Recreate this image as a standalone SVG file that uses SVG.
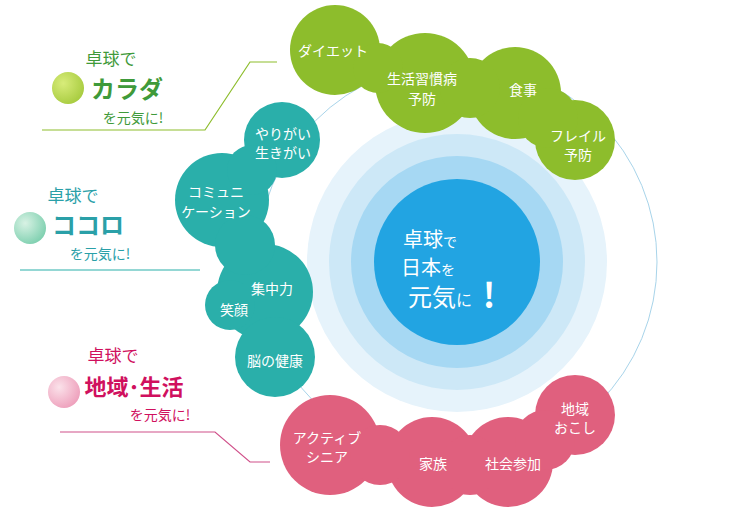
<svg xmlns="http://www.w3.org/2000/svg" width="734" height="516" viewBox="0 0 734 516">
<defs>
<radialGradient id="gb" cx="0.35" cy="0.35" r="0.7"><stop offset="0" stop-color="#d8ec7a"/><stop offset="1" stop-color="#a8cc40"/></radialGradient>
<radialGradient id="tb" cx="0.35" cy="0.35" r="0.7"><stop offset="0" stop-color="#d8f2e4"/><stop offset="1" stop-color="#7fd0b0"/></radialGradient>
<radialGradient id="pb" cx="0.35" cy="0.35" r="0.7"><stop offset="0" stop-color="#fbe2ea"/><stop offset="1" stop-color="#eea0bc"/></radialGradient>
</defs>
<style>
text{font-family:"Noto Sans CJK JP","Noto Sans",sans-serif;text-anchor:middle}
.w{fill:#fff;font-size:14px}
.g{fill:#8dbd2c}.t{fill:#2aafaa}.p{fill:#e0607e}
</style>
<rect width="734" height="516" fill="#fff"/>
<g id="center">
<circle cx="457" cy="262" r="200" fill="none" stroke="#a8d4ea" stroke-width="1"/>
<circle cx="457" cy="262" r="150" fill="#e6f3fb"/>
<circle cx="457" cy="262" r="128" fill="#cde8f7"/>
<circle cx="457" cy="262" r="106" fill="#a6d8f3"/>
<circle cx="457" cy="262" r="83" fill="#22a4e2"/>
<text x="430" y="247" fill="#fff" font-size="20">卓球<tspan font-size="14">で</tspan></text>
<text x="428" y="275" fill="#fff" font-size="20">日本<tspan font-size="14">を</tspan></text>
<text x="440" y="306" fill="#fff" font-size="24">元気<tspan font-size="16">に</tspan></text>
<text x="489" y="308" fill="#fff" font-size="34" font-weight="bold">!</text>
</g>
<g id="green">
<g class="g"><circle cx="335" cy="50" r="45"/><circle cx="425" cy="83" r="50"/><circle cx="515" cy="93" r="46"/><circle cx="575" cy="140" r="40"/>
<circle cx="378" cy="68" r="25"/><circle cx="470" cy="88" r="30"/><circle cx="548" cy="118" r="30"/></g>
<text class="w" x="333" y="56">ダイエット</text>
<text class="w" x="422" y="84">生活習慣病</text><text class="w" x="422" y="104">予防</text>
<text class="w" x="523" y="95">食事</text>
<text class="w" x="578" y="141">フレイル</text><text class="w" x="578" y="160">予防</text>
</g>
<g id="teal">
<g class="t"><circle cx="282" cy="140" r="38"/><circle cx="222" cy="200" r="47"/><circle cx="265" cy="292" r="48"/><circle cx="275" cy="357" r="40"/>
<circle cx="252" cy="170" r="25"/><circle cx="245" cy="245" r="30"/><circle cx="230" cy="305" r="25"/></g>
<text class="w" x="283" y="139">やりがい</text><text class="w" x="283" y="158">生きがい</text>
<text class="w" x="216" y="197" font-size="13">コミュニ</text><text class="w" x="216" y="217" font-size="13">ケーション</text>
<text class="w" x="272" y="294">集中力</text>
<text class="w" x="234" y="315">笑顔</text>
<text class="w" x="275" y="366">脳の健康</text>
</g>
<g id="pink">
<g class="p"><circle cx="330" cy="445" r="50"/><circle cx="432" cy="462" r="45"/><circle cx="508" cy="462" r="45"/><circle cx="575" cy="415" r="40"/>
<circle cx="380" cy="455" r="30"/><circle cx="470" cy="465" r="30"/><circle cx="545" cy="440" r="30"/></g>
<text class="w" x="327" y="443">アクティブ</text><text class="w" x="327" y="462">シニア</text>
<text class="w" x="433" y="469">家族</text>
<text class="w" x="513" y="469">社会参加</text>
<text class="w" x="575" y="414">地域</text><text class="w" x="575" y="433">おこし</text>
</g>
<g id="connectors" fill="none" stroke-width="1.2">
<polyline points="42,130 205,130 250,62 277,62" stroke="#8dbd2c"/>
<polyline points="20,270 200,270" stroke="#2aafaa"/>
<polyline points="60,432 215,432 250,462 270,462" stroke="#d0508a"/>
</g>
<g id="label1">
<circle cx="68" cy="88" r="16" fill="url(#gb)"/>
<text x="111" y="65" fill="#3f9a3a" font-size="17">卓球で</text>
<text x="127" y="98" fill="#3f9a3a" font-size="24" font-weight="bold">カラダ</text>
<text x="133" y="123" fill="#3f9a3a" font-size="14">を元気に!</text>
</g>
<g id="label2">
<circle cx="30" cy="228" r="16" fill="url(#tb)"/>
<text x="73" y="202" fill="#2aa0a8" font-size="17">卓球で</text>
<text x="88" y="234" fill="#2aa0a8" font-size="24" font-weight="bold">ココロ</text>
<text x="100" y="259" fill="#2aa0a8" font-size="14">を元気に!</text>
</g>
<g id="label3">
<circle cx="64" cy="392" r="16" fill="url(#pb)"/>
<text x="113" y="362" fill="#d0105e" font-size="17">卓球で</text>
<text x="134" y="395" fill="#d0105e" font-size="22" font-weight="bold">地域･生活</text>
<text x="160" y="420" fill="#d0105e" font-size="14">を元気に!</text>
</g>
</svg>
